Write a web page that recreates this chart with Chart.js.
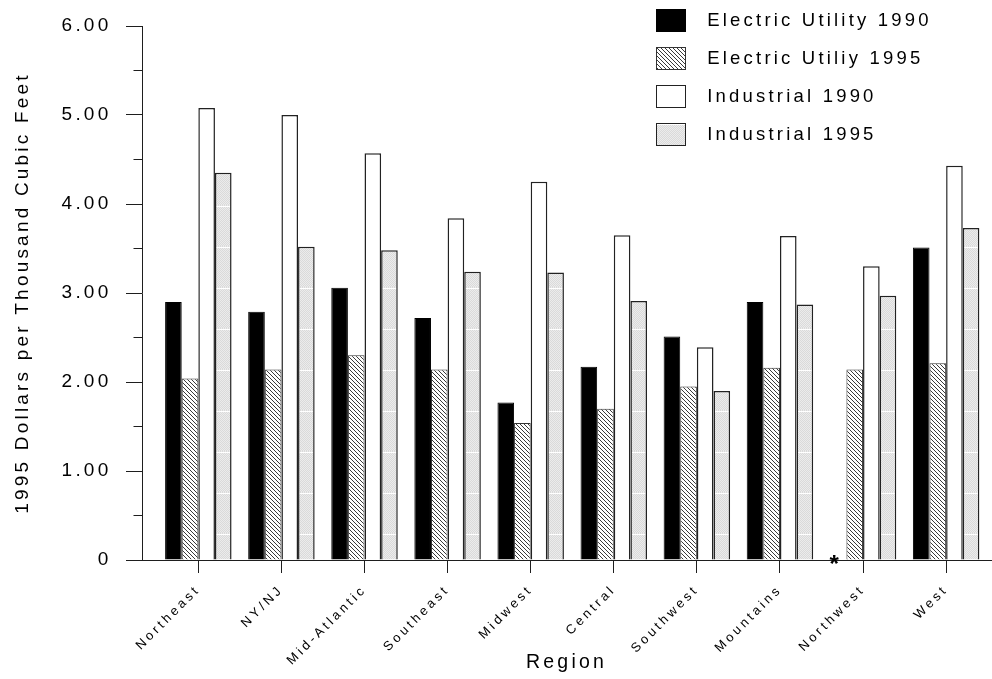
<!DOCTYPE html>
<html>
<head>
<meta charset="utf-8">
<script src="https://cdn.jsdelivr.net/npm/chart.js@4/dist/chart.umd.min.js"></script>
<style>
  html, body { margin: 0; padding: 0; background: #fff; }
  canvas { display: block; }
</style>
</head>
<body>
<canvas id="chart" width="992" height="679"></canvas>
<script>
// Natural gas prices by region, 1995 dollars per thousand cubic feet
const regions = ['Northeast', 'NY/NJ', 'Mid-Atlantic', 'Southeast', 'Midwest',
                 'Central', 'Southwest', 'Mountains', 'Northwest', 'West'];

const electricUtility1990 = [2.90, 2.79, 3.06, 2.72, 1.77, 2.17, 2.51, 2.90, null, 3.51];
const electricUtility1995 = [2.04, 2.14, 2.30, 2.14, 1.54, 1.70, 1.95, 2.16, 2.14, 2.21];
const industrial1990      = [5.08, 5.00, 4.57, 3.84, 4.25, 3.65, 2.39, 3.64, 3.30, 4.43];
const industrial1995      = [4.35, 3.52, 3.48, 3.24, 3.23, 2.91, 1.90, 2.87, 2.97, 3.73];

const seriesLabels = ['Electric Utility 1990', 'Electric Utiliy 1995', 'Industrial 1990', 'Industrial 1995'];
const yTickLabels = ['0', '1.00', '2.00', '3.00', '4.00', '5.00', '6.00'];
const yAxisTitle = '1995 Dollars per Thousand Cubic Feet';
const xAxisTitle = 'Region';
const missingMark = '*';

const seriesValues = [electricUtility1990, electricUtility1995, industrial1990, industrial1995];

// ---- styling ----
const FONT = "'Liberation Sans', Arial, Helvetica, sans-serif";
const LETTER_SPACING = '3.2px';
const INK = '#1e1e1e';

function makeTile(w, h, paint) {
  const c = document.createElement('canvas');
  c.width = w; c.height = h;
  paint(c.getContext('2d'), w, h);
  return c;
}
const asPattern = (tile) => tile.getContext('2d').createPattern(tile, 'repeat');

// diagonal hatching (top-left to bottom-right)
const hatchTile = makeTile(4, 4, (g) => {
  g.fillStyle = '#fff'; g.fillRect(0, 0, 4, 4);
  g.fillStyle = '#3a3a3a';
  for (let i = 0; i < 4; i++) g.fillRect(i, i, 1, 1);
});
// light grey stipple with a faint white seam
const stippleTile = makeTile(4, 41, (g, w, h) => {
  g.fillStyle = '#ececec'; g.fillRect(0, 0, w, h);
  g.fillStyle = '#dadada';
  for (let y = 0; y < h; y++) for (let x = 0; x < w; x++) if ((x + y) % 2 === 0) g.fillRect(x, y, 1, 1);
  g.fillStyle = '#ffffff'; g.fillRect(0, 1, w, 1);
});

const seriesStyles = [
  { fill: '#000', border: '#000', width: 1 },
  { fill: asPattern(hatchTile), border: '#333', width: 1 },
  { fill: '#fff', border: '#222', width: 1.5 },
  { fill: asPattern(stippleTile), border: '#222', width: 1.5 },
];

// legend swatches: 30x23 box on the left of a 42px wide image
const SWATCH_W = 42, SWATCH_H = 23;
const swatches = seriesStyles.map((st) => makeTile(SWATCH_W, SWATCH_H, (g) => {
  g.fillStyle = st.fill; g.fillRect(0, 0, 30, SWATCH_H);
  g.strokeStyle = st.border; g.lineWidth = 1;
  g.strokeRect(0.5, 0.5, 29, SWATCH_H - 1);
}));

const LEGEND_FONT = 18.5;
const LEGEND_PAD = 38 - LEGEND_FONT;          // row pitch 38px
const LEGEND_BOX = { x: 656, firstRowCenter: 20.5 };

Chart.defaults.font.family = FONT;
Chart.defaults.color = '#000';

const datasets = seriesValues.map((vals, i) => ({
  label: seriesLabels[i],
  data: vals.map((v, j) => ({ x: j, y: v })),
  backgroundColor: seriesStyles[i].fill,
  borderColor: seriesStyles[i].border,
  borderWidth: seriesStyles[i].width,
  categoryPercentage: 0.8,
  barPercentage: 1.0,
}));

// wide letter spacing for every text drawn on the canvas
const spacingPlugin = {
  id: 'spacing',
  beforeUpdate(chart) { chart.ctx.letterSpacing = LETTER_SPACING; },
  beforeLayout(chart) { chart.ctx.letterSpacing = LETTER_SPACING; },
  beforeDraw(chart) { chart.ctx.letterSpacing = LETTER_SPACING; },
};

// legend placed at the upper right, over the plot area
const legendPlacement = {
  id: 'legendPlacement',
  afterLayout(chart) {
    const lg = chart.legend;
    if (!lg) return;
    lg.left = LEGEND_BOX.x - LEGEND_PAD;
    lg.top = LEGEND_BOX.firstRowCenter - LEGEND_FONT / 2 - LEGEND_PAD;
    lg.right = chart.width;
    lg.bottom = 220;
    lg.width = lg.right - lg.left;
    lg.height = lg.bottom - lg.top;
  },
};

const align = (px) => Math.round(px - 0.5) + 0.5;

// half-step minor ticks on the value axis, and the marker for missing values
const axisExtras = {
  id: 'axisExtras',
  afterDraw(chart) {
    const ctx = chart.ctx;
    const ys = chart.scales.y;
    const left = align(chart.chartArea.left);
    ctx.save();
    ctx.strokeStyle = INK;
    ctx.lineWidth = 1;
    ctx.beginPath();
    for (let k = 0; k < yTickLabels.length - 1; k++) {
      const py = align(ys.getPixelForValue(k + 0.5));
      ctx.moveTo(left - 9, py);
      ctx.lineTo(left, py);
    }
    ctx.stroke();

    ctx.font = 'bold 24px ' + FONT;
    ctx.letterSpacing = '0px';
    ctx.textAlign = 'center';
    ctx.textBaseline = 'alphabetic';
    ctx.fillStyle = '#000';
    const base = ys.getPixelForValue(0);
    seriesValues.forEach((vals, d) => {
      const meta = chart.getDatasetMeta(d);
      vals.forEach((v, j) => {
        if (v === null && meta.data[j]) {
          ctx.fillText(missingMark, meta.data[j].x - 4, base + 12);
        }
      });
    });
    ctx.restore();
  },
};

new Chart(document.getElementById('chart'), {
  type: 'bar',
  data: { datasets },
  options: {
    responsive: false,
    animation: false,
    devicePixelRatio: 1,
    layout: { padding: { left: 0, top: 22, right: 1, bottom: 0 } },
    plugins: {
      tooltip: { enabled: false },
      legend: {
        position: 'chartArea',
        align: 'start',
        labels: {
          usePointStyle: true,
          pointStyleWidth: SWATCH_W,
          padding: LEGEND_PAD,
          color: '#000',
          font: { family: FONT, size: LEGEND_FONT },
          generateLabels: (chart) => chart.data.datasets.map((ds, i) => ({
            text: ds.label,
            pointStyle: swatches[i],
            fillStyle: 'rgba(0,0,0,0)',
            strokeStyle: 'rgba(0,0,0,0)',
            lineWidth: 0,
            hidden: false,
            datasetIndex: i,
            fontColor: '#000',
          })),
        },
      },
    },
    scales: {
      x: {
        type: 'linear',
        offset: false,
        min: -0.678,
        max: 9.54,
        grid: { display: true, offset: false, drawOnChartArea: false, drawTicks: true,
                tickLength: 13, color: INK, tickColor: INK },
        border: { display: true, color: INK, width: 1 },
        ticks: {
          autoSkip: false, maxRotation: 45, minRotation: 45, padding: 9,
          color: '#000', font: { family: FONT, size: 13 },
          callback: (v) => regions[v] ?? '',
        },
        title: { display: true, text: xAxisTitle, color: '#000',
                 font: { family: FONT, size: 19.5 }, padding: { top: 0, bottom: 4.3 } },
        afterBuildTicks: (s) => { s.ticks = regions.map((_, i) => ({ value: i })); },
        afterFit: (s) => { s.height = 119; s.paddingLeft = 0; s.paddingRight = 0; },
      },
      y: {
        min: 0,
        max: 6,
        grid: { display: true, drawOnChartArea: false, drawTicks: true, tickLength: 16,
                color: INK, tickColor: INK },
        border: { display: true, color: INK, width: 1 },
        ticks: {
          stepSize: 1, padding: 14.6, color: '#000',
          font: { family: FONT, size: 19 },
          callback: (v) => yTickLabels[Math.round(v)] ?? '',
        },
        title: { display: true, text: yAxisTitle, color: '#000',
                 font: { family: FONT, size: 19 }, padding: { top: 11, bottom: 0 } },
        afterFit: (s) => { s.width = 142; },
      },
    },
  },
  plugins: [spacingPlugin, legendPlacement, axisExtras],
});
</script>
</body>
</html>
